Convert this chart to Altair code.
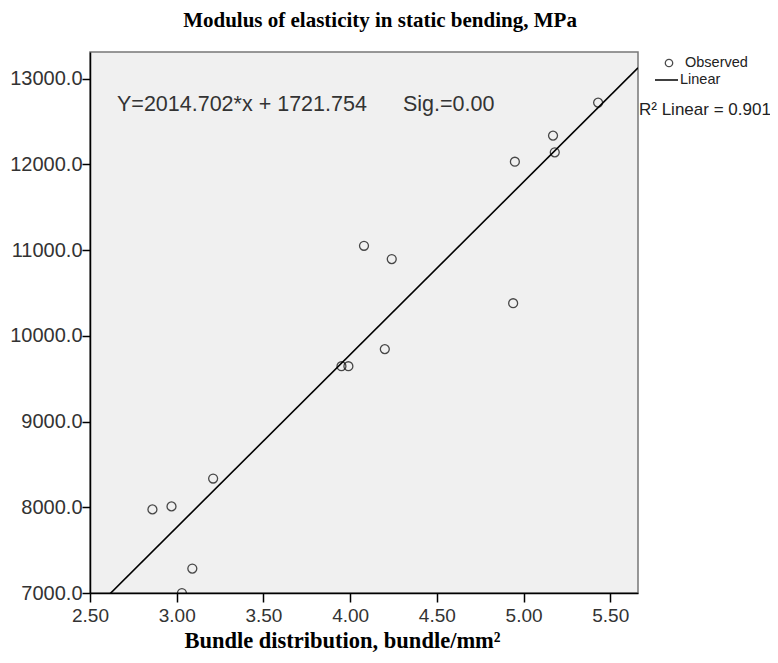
import altair as alt
import pandas as pd

bundle = [2.86, 2.97, 3.21, 3.09, 3.03, 3.95, 3.99, 4.20, 4.08, 4.24, 4.94, 4.95, 5.17, 5.18, 5.43]
moe = [7975, 8010, 8335, 7285, 7000, 9645, 9645, 9845, 11050, 10895, 10380, 12030, 12335, 12140, 12720]

# Fitted equation shown on the chart
slope = 2014.702
intercept = 1721.754
fit_x = [2.5, 5.66]

x_ticks = [2.5, 3.0, 3.5, 4.0, 4.5, 5.0, 5.5]
y_ticks = [7000, 8000, 9000, 10000, 11000, 12000, 13000]
x_domain = [2.5, 5.66]
y_domain = [7000, 13310]

W, H = 548, 541
SANS = "Liberation Sans"
SERIF = "Liberation Serif"

pts = pd.DataFrame({"x": bundle, "y": moe})
fit = pd.DataFrame({"x": fit_x, "y": [slope * v + intercept for v in fit_x]})

xs = alt.Scale(domain=x_domain, nice=False, zero=False)
ys = alt.Scale(domain=y_domain, nice=False, zero=False)

x_axis = alt.Axis(values=x_ticks, format=".2f", grid=False, tickSize=9, tickColor="black",
                  tickWidth=1.5, domainColor="black", domainWidth=1.5, labelFont=SANS,
                  labelFontSize=19, labelColor="#333", labelPadding=4, labelFlush=False,
                  labelOverlap=False,
                  title="Bundle distribution, bundle/mm²", titleFont=SERIF, titleFontSize=22.5,
                  titleFontWeight="bold", titleColor="black", titleX=252, titleY=54,
                  titleAlign="center", titleBaseline="alphabetic")
y_axis = alt.Axis(values=y_ticks, format=".1f", grid=False, tickSize=8, tickColor="black",
                  tickWidth=1.5, domainColor="black", domainWidth=1.5, labelFont=SANS,
                  labelFontSize=20, labelColor="#333", labelPadding=0, labelFlush=False,
                  labelOverlap=False, title=None)

line = alt.Chart(fit).mark_line(color="black", strokeWidth=1.6, clip=True).encode(
    x=alt.X("x:Q", scale=xs, axis=x_axis),
    y=alt.Y("y:Q", scale=ys, axis=y_axis),
)

points = alt.Chart(pts).mark_point(shape="circle", filled=False, color="black", size=80,
                                   strokeWidth=1.3, clip=True).encode(
    x=alt.X("x:Q", scale=xs),
    y=alt.Y("y:Q", scale=ys),
)

ann = pd.DataFrame({
    "t": ["Y=2014.702*x + 1721.754", "Sig.=0.00"],
    "px": [27, 313],
    "py": [53, 53],
})
annotation = alt.Chart(ann).mark_text(font=SANS, fontSize=21.5, align="left", baseline="middle",
                                      color="#333").encode(
    text="t:N", x=alt.X("px:Q", scale=None), y=alt.Y("py:Q", scale=None))

leg_txt = pd.DataFrame({
    "t": ["Observed", "Linear", "R² Linear = 0.901"],
    "px": [595, 590, 549],
    "py": [11, 28, 58],
    "fs": [14.5, 14.5, 17],
})
legend_text = alt.Chart(leg_txt).mark_text(font=SANS, align="left", baseline="middle",
                                           color="#222").encode(
    text="t:N", x=alt.X("px:Q", scale=None), y=alt.Y("py:Q", scale=None),
    size=alt.Size("fs:Q", scale=None, legend=None))

legend_pt = alt.Chart(pd.DataFrame({"px": [579], "py": [11]})).mark_point(
    shape="circle", filled=False, color="black", size=55, strokeWidth=1.3).encode(
    x=alt.X("px:Q", scale=None), y=alt.Y("py:Q", scale=None))

legend_line = alt.Chart(pd.DataFrame({"px": [565], "px2": [588], "py": [28]})).mark_rule(
    color="black", strokeWidth=1.5).encode(
    x=alt.X("px:Q", scale=None), x2="px2:Q", y=alt.Y("py:Q", scale=None))

chart = alt.layer(line, points, annotation, legend_text, legend_pt, legend_line).properties(
    width=W, height=H,
    background="white",
    autosize=alt.AutoSizeParams(type="none"),
    padding={"left": 82, "top": 44, "right": 132, "bottom": 62},
    title=alt.TitleParams("Modulus of elasticity in static bending, MPa", font=SERIF,
                          fontSize=21, fontWeight="bold", color="black", anchor="middle",
                          dx=16, offset=21),
).configure_view(fill="#f0f0f0", stroke="#777", strokeWidth=1.5)

chart.save("out.html", embed_options={"renderer": "svg", "actions": False})
